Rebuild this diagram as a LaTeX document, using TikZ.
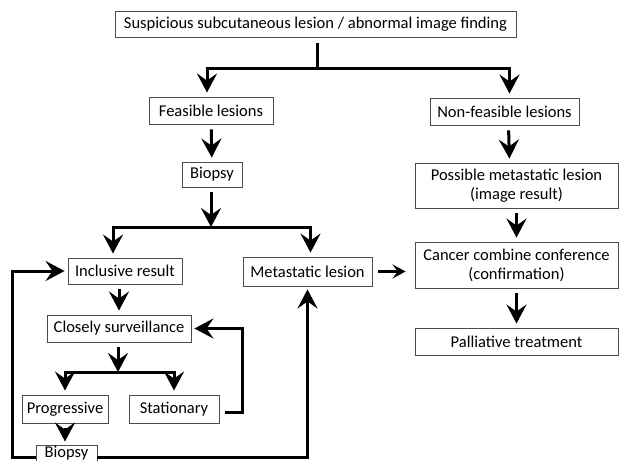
\documentclass[tikz,border=0pt]{standalone}
\usepackage{fontspec}
\setmainfont{Carlito}
\usetikzlibrary{arrows.meta}

\tikzset{
  box/.style={draw=black!70, line width=0.9pt, rectangle, inner sep=0pt,
    minimum height=27pt, align=center, font=\fontsize{16.5}{19}\selectfont},
  flow/.style={line width=3pt, -{Stealth[length=19pt,width=20pt,inset=7pt]},
    shorten >=4pt},
  link/.style={line width=3pt}
}

\begin{document}
\begin{tikzpicture}[x=1pt,y=-1pt]
\useasboundingbox (0,0) rectangle (622,461);
\node[box, minimum width=401pt, minimum height=26pt] (find) at (315.5,24) {Suspicious subcutaneous lesion / abnormal image finding};
\node[box, minimum width=124pt] (feas) at (211,110.5) {Feasible lesions};
\node[box, minimum width=149pt] (nonf) at (504.5,111.5) {Non-feasible lesions};
\node[box, minimum width=60pt, minimum height=25pt] (biop) at (212,174.5) {Biopsy};
\node[box, minimum width=114pt, minimum height=26pt] (incl) at (125,271) {Inclusive result};
\node[box, minimum width=129pt, minimum height=29pt] (meta) at (307.5,271.5) {Metastatic lesion};
\node[box, minimum width=203pt, minimum height=45pt] (poss) at (516.5,185.5) {Possible metastatic lesion\\(image result)};
\node[box, minimum width=203pt, minimum height=46pt] (conf) at (516.5,265) {Cancer combine conference\\(confirmation)};
\node[box, minimum width=203pt] (pall) at (516.5,341.5) {Palliative treatment};
\node[box, minimum width=144pt] (surv) at (119,328.5) {Closely surveillance};
\node[box, minimum width=86pt, minimum height=28pt] (prog) at (65,409) {Progressive};
\node[box, minimum width=90pt, minimum height=28pt] (stat) at (174,409) {Stationary};
\node[box, minimum width=61pt, minimum height=16pt] (biop2) at (66.5,453) {Biopsy};

\coordinate (split1) at (317,68);
\coordinate (split2) at (211,227);
\coordinate (split3) at (118,372);

\draw[link, shorten <=6pt] (find.south -| split1) -- (split1);
\draw[flow] (split1) -| ([xshift=-4pt]feas.north);
\draw[flow] (split1) -| ([xshift=5pt]nonf.north);
\draw[flow, shorten <=5pt] (feas) -- (biop);
\draw[flow, shorten <=5pt, shorten >=0pt] (biop.south -| split2) -- (split2);
\draw[flow] (split2) -| ([xshift=-12pt]incl.north);
\draw[flow] (split2) -| ([xshift=3pt]meta.north);
\draw[flow, shorten <=5pt] ([xshift=4pt]nonf.south) -- ([xshift=-7pt]poss.north);
\draw[flow, shorten <=5pt] (poss) -- (conf);
\draw[flow, shorten <=5pt] (conf) -- (pall);
\draw[line width=2.5pt, -{Stealth[length=13pt,width=14pt,inset=5pt]}, shorten <=6pt, shorten >=9pt]
  (meta.east) -- (meta.east -| conf.west);
\draw[flow, shorten <=5pt] (incl.south -| surv.north) -- (surv.north);
\draw[flow, shorten <=5pt, shorten >=0pt] (surv.south -| split3) -- (split3);
\draw[flow] (split3) -| (prog);
\draw[flow] (split3) -| (stat);
\draw[flow, shorten <=6pt, shorten >=3pt] ([yshift=-3pt]stat.east) -- ++(23,0) |- (surv.east);
\draw[flow, shorten <=5pt, shorten >=3pt] (prog) -- (prog |- biop2.north);
\draw[flow, shorten >=3pt] ([yshift=-4pt]biop2.west) -- ++(-23,0) |- (incl.west);
\draw[flow, shorten >=3pt] ([yshift=-4pt]biop2.east) -| (meta.south);
\end{tikzpicture}
\end{document}
